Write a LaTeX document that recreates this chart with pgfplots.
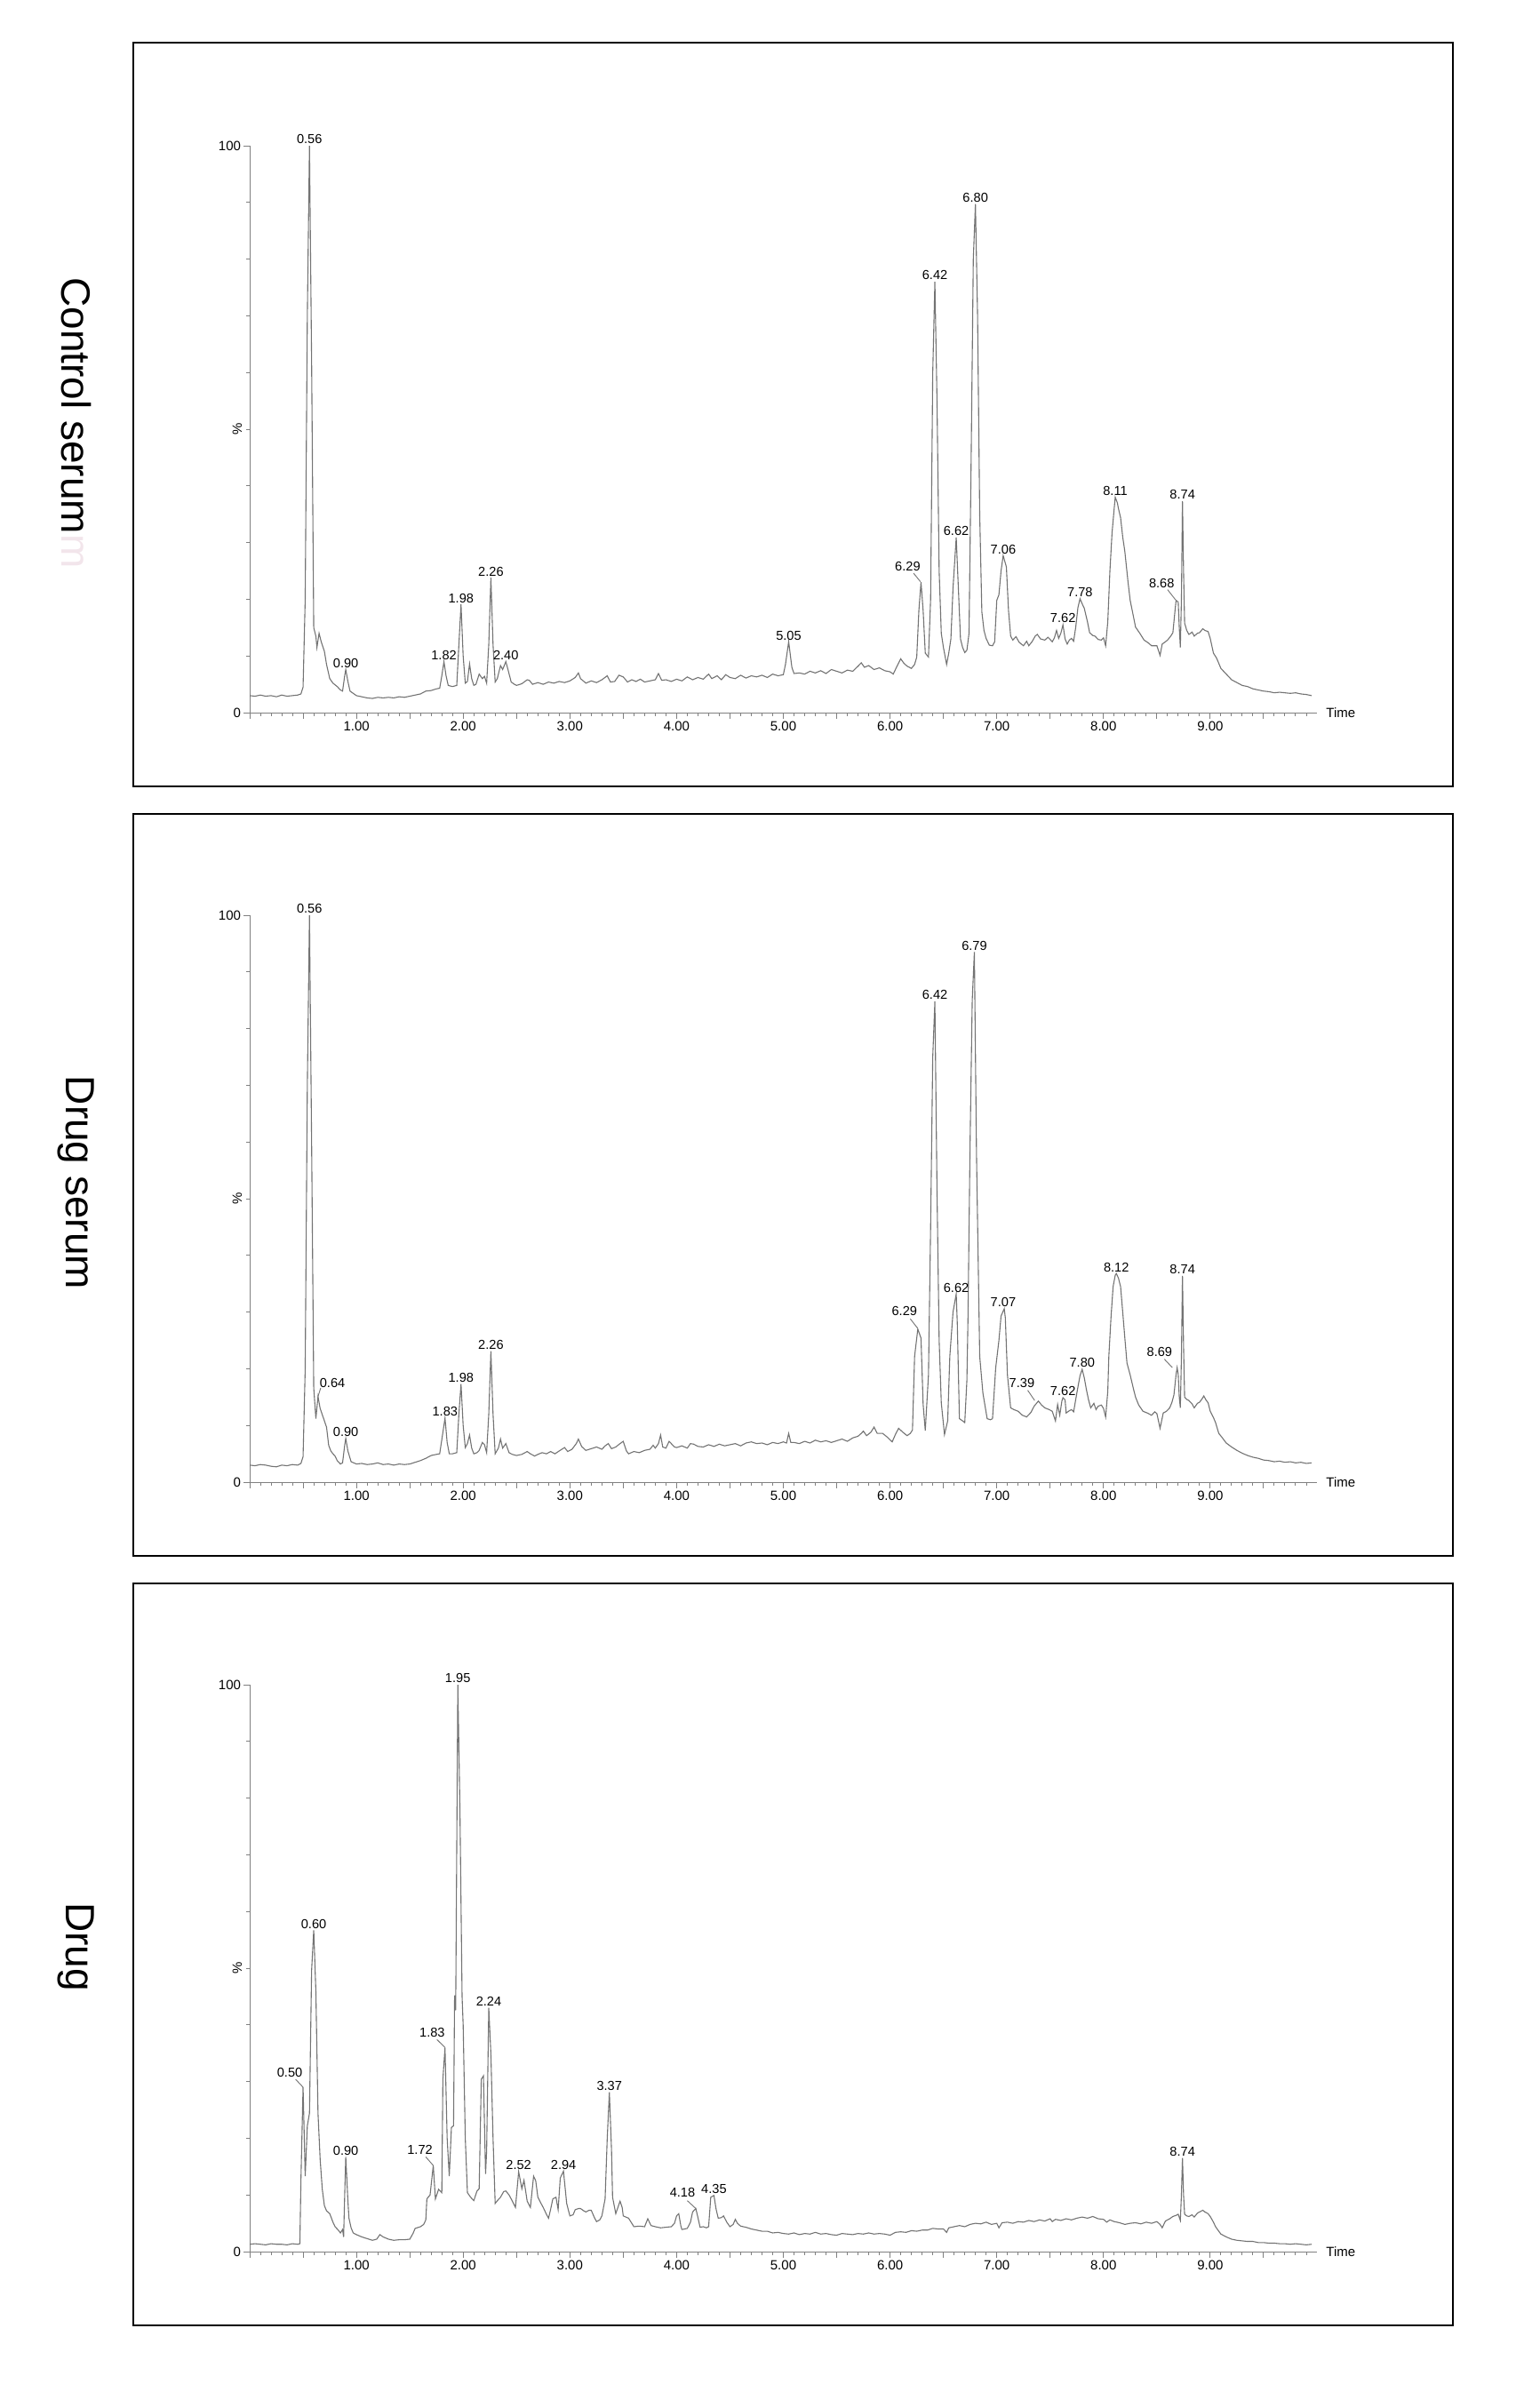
\documentclass[border=0pt]{standalone}
\usepackage{pgfplots}
\usepackage{pgfplotstable}
\pgfplotsset{compat=1.18}
\usepackage{fontspec}
\setmainfont{Liberation Sans}

\pgfplotstableread{
x y
0.00 3.0
0.05 2.9
0.10 3.1
0.15 2.9
0.20 3.0
0.25 2.8
0.30 3.1
0.35 2.9
0.40 3.0
0.45 3.1
0.48 3.3
0.50 4.5
0.52 20
0.54 70
0.56 100
0.58 62
0.60 15
0.62 13.5
0.63 11.5
0.65 14.0
0.67 12.5
0.70 10.8
0.72 8.5
0.75 6.0
0.78 5.2
0.82 4.6
0.85 4.0
0.87 3.8
0.89 6.5
0.90 7.6
0.92 5.5
0.94 3.8
0.97 3.4
1.00 3.0
1.05 2.8
1.10 2.6
1.15 2.5
1.20 2.7
1.25 2.6
1.30 2.7
1.35 2.6
1.40 2.8
1.45 2.7
1.50 2.9
1.55 3.1
1.60 3.3
1.65 3.8
1.70 3.9
1.75 4.2
1.78 4.3
1.80 6.5
1.82 9.0
1.84 6.5
1.86 4.8
1.90 4.6
1.94 4.8
1.96 12
1.98 19.1
2.00 10
2.02 5.2
2.04 5.5
2.06 8.6
2.08 6.0
2.10 4.8
2.12 5.0
2.15 6.8
2.18 6.0
2.20 6.4
2.22 5.2
2.24 12
2.26 23.8
2.28 12
2.30 5.4
2.32 6.0
2.35 8.3
2.37 7.6
2.40 9.0
2.42 7.6
2.45 5.4
2.48 5.0
2.50 4.8
2.55 5.1
2.60 5.8
2.62 5.7
2.65 5.0
2.70 5.3
2.75 5.0
2.80 5.4
2.85 5.2
2.90 5.5
2.95 5.3
3.00 5.6
3.05 6.2
3.08 7.0
3.10 6.0
3.15 5.2
3.20 5.6
3.25 5.3
3.30 5.8
3.35 6.5
3.38 5.4
3.42 5.5
3.46 6.6
3.50 6.3
3.54 5.4
3.58 5.8
3.62 5.5
3.66 5.9
3.70 5.4
3.75 5.6
3.80 5.8
3.83 6.9
3.86 5.7
3.90 5.8
3.95 5.5
4.00 5.9
4.05 5.6
4.10 6.3
4.15 5.8
4.20 6.2
4.25 5.9
4.30 6.8
4.33 6.0
4.38 6.5
4.42 5.8
4.46 6.7
4.50 6.2
4.55 6.0
4.60 6.6
4.65 6.1
4.70 6.5
4.75 6.3
4.80 6.6
4.85 6.2
4.90 6.8
4.95 6.5
5.00 6.7
5.02 8.5
5.05 12.5
5.08 8.0
5.10 6.9
5.15 7.0
5.20 6.8
5.25 7.3
5.30 7.0
5.35 7.4
5.40 6.9
5.45 7.6
5.50 7.3
5.55 7.0
5.60 7.5
5.65 7.3
5.70 8.2
5.73 8.8
5.76 8.0
5.80 8.3
5.85 7.6
5.90 7.9
5.95 7.4
6.00 7.2
6.03 6.8
6.06 8.0
6.10 9.5
6.13 8.7
6.16 8.2
6.20 7.8
6.23 8.5
6.25 9.8
6.27 18
6.29 23
6.31 18
6.33 10.5
6.36 9.8
6.38 20
6.40 60
6.42 76
6.44 55
6.46 25
6.48 14
6.50 11.5
6.53 8.5
6.55 10.5
6.57 13
6.59 22
6.62 30.9
6.64 22
6.66 13
6.68 11.5
6.70 10.6
6.72 11.0
6.74 14
6.76 45
6.78 80
6.80 89.7
6.82 70
6.84 35
6.86 17.8
6.88 14.5
6.90 13.1
6.93 11.9
6.96 11.8
6.98 12.5
7.00 19.8
7.02 20.8
7.04 25
7.06 27.7
7.09 25.7
7.11 18
7.13 13.5
7.15 12.8
7.18 13.4
7.21 12.4
7.25 11.8
7.28 12.6
7.30 11.8
7.33 12.5
7.36 13.5
7.38 13.8
7.41 13.0
7.45 12.8
7.48 13.3
7.52 12.5
7.54 13.2
7.56 14.5
7.58 13.1
7.60 14.0
7.62 15.5
7.64 13.0
7.66 12.1
7.68 12.8
7.70 13.1
7.72 12.6
7.74 15.1
7.76 18.5
7.78 20.1
7.80 19.2
7.82 18.4
7.85 16
7.87 14.1
7.90 13.6
7.92 13.5
7.95 12.9
7.98 12.8
8.00 13.2
8.02 11.8
8.04 16
8.06 25
8.08 31.7
8.10 36
8.11 38
8.13 37
8.14 36
8.16 34.4
8.18 31
8.20 28.4
8.23 23
8.25 19.8
8.28 17
8.30 15.1
8.34 14
8.38 12.8
8.42 12.3
8.45 11.8
8.50 11.8
8.53 10.1
8.55 12.1
8.58 12.5
8.60 12.8
8.63 13.5
8.65 14.1
8.67 18
8.68 19.8
8.70 19.5
8.71 15
8.72 11.5
8.73 20
8.74 37.3
8.75 25
8.76 15.8
8.78 14.5
8.80 13.8
8.83 14.2
8.85 13.5
8.88 14.0
8.90 14.1
8.93 14.8
8.95 14.5
8.98 14.3
9.00 13.1
9.03 10.5
9.06 9.6
9.10 7.8
9.15 6.8
9.20 5.8
9.25 5.3
9.30 4.8
9.35 4.6
9.40 4.2
9.45 4.0
9.50 3.8
9.55 3.7
9.60 3.5
9.65 3.6
9.70 3.5
9.75 3.4
9.80 3.5
9.85 3.3
9.90 3.2
9.95 3.0
}\tabControl

\pgfplotstableread{
x y
0.00 3.0
0.05 2.9
0.10 3.1
0.15 3.0
0.20 2.8
0.25 2.7
0.30 3.0
0.35 2.9
0.40 3.1
0.45 3.0
0.48 3.3
0.50 4.5
0.52 20
0.54 70
0.56 100
0.58 60
0.60 16.6
0.62 11.2
0.64 15.1
0.66 13
0.68 11.9
0.70 10.8
0.72 9.7
0.74 6.5
0.76 5.5
0.78 5.0
0.80 4.6
0.82 3.8
0.85 3.2
0.87 3.4
0.89 6.5
0.90 7.7
0.92 5.5
0.95 3.6
1.00 3.2
1.05 3.3
1.10 3.1
1.15 3.2
1.20 3.4
1.25 3.1
1.30 3.2
1.35 3.0
1.40 3.2
1.45 3.1
1.50 3.2
1.55 3.5
1.60 3.8
1.65 4.2
1.70 4.7
1.75 4.9
1.78 5.0
1.80 7.5
1.83 11.3
1.85 7
1.87 5.0
1.90 5.0
1.94 5.2
1.96 12
1.98 17.3
2.00 10
2.02 6.1
2.04 6.8
2.06 8.3
2.08 6.0
2.10 5.0
2.13 5.2
2.15 5.6
2.18 7.0
2.20 6.6
2.22 5.2
2.24 12
2.26 23.1
2.28 12
2.30 5.0
2.33 6.0
2.35 7.6
2.37 6.0
2.40 6.8
2.43 5.2
2.46 4.9
2.50 4.7
2.55 4.9
2.60 5.4
2.63 5.0
2.67 4.6
2.70 4.9
2.74 5.2
2.78 5.0
2.82 5.4
2.86 5.0
2.90 5.5
2.95 6.1
2.98 5.4
3.02 5.8
3.06 6.8
3.08 7.6
3.11 6.3
3.15 5.6
3.20 5.9
3.25 6.2
3.30 5.8
3.33 6.4
3.36 6.8
3.39 5.9
3.43 6.2
3.47 6.8
3.50 7.2
3.53 5.5
3.55 5.0
3.60 5.4
3.65 5.2
3.70 5.6
3.75 5.8
3.78 6.5
3.80 6.0
3.83 6.8
3.85 8.3
3.87 6.2
3.90 6.0
3.93 7.2
3.95 6.8
3.98 6.2
4.00 6.1
4.05 6.4
4.10 6.0
4.13 6.8
4.16 6.7
4.20 6.3
4.25 6.2
4.30 6.6
4.35 6.3
4.40 6.7
4.45 6.4
4.50 6.6
4.55 6.8
4.60 6.4
4.65 6.9
4.70 7.1
4.75 6.8
4.80 6.9
4.85 6.6
4.90 7.0
4.95 6.8
5.00 7.1
5.03 6.9
5.05 8.6
5.07 7.0
5.10 7.0
5.15 6.8
5.20 7.2
5.25 6.9
5.30 7.4
5.35 7.1
5.40 7.3
5.45 7.0
5.50 7.3
5.55 7.6
5.60 7.2
5.65 7.8
5.70 8.1
5.73 8.6
5.75 9.0
5.78 8.2
5.82 8.8
5.85 9.7
5.88 8.6
5.93 8.6
5.97 8.0
6.02 7.1
6.05 8.4
6.08 9.5
6.12 8.8
6.16 8.2
6.19 8.6
6.21 9.2
6.23 22.2
6.26 27
6.29 25.4
6.31 13.7
6.33 9.1
6.36 18.9
6.38 45
6.40 75
6.42 84.8
6.44 51.4
6.46 25
6.48 14
6.51 8.4
6.54 10.8
6.56 22.2
6.59 30
6.62 33.2
6.63 28
6.65 11.2
6.68 10.8
6.70 10.5
6.72 18
6.73 28.7
6.75 60
6.77 85
6.79 93.5
6.81 57.8
6.84 22.2
6.87 15.7
6.91 11.2
6.94 11.0
6.96 11.2
6.99 20.2
7.02 25
7.04 29.3
7.07 30.6
7.08 29
7.10 18.9
7.13 13.1
7.16 12.8
7.20 12.5
7.24 11.8
7.28 11.5
7.32 12.3
7.35 13.4
7.39 14.3
7.42 13.6
7.45 13.1
7.49 12.8
7.52 12.5
7.55 10.8
7.57 13.7
7.59 11.8
7.61 14.3
7.62 14.9
7.64 14.5
7.65 12.2
7.68 12.6
7.70 12.8
7.72 12.4
7.75 15.7
7.78 18.8
7.80 19.9
7.82 18.4
7.84 16.3
7.86 14.5
7.88 13.1
7.91 13.9
7.93 12.8
7.95 13.4
7.98 13.6
8.00 13.0
8.02 11.5
8.04 16
8.05 22.2
8.07 29
8.09 34.5
8.11 36.5
8.12 36.8
8.14 36.0
8.16 34.5
8.18 30
8.20 25.4
8.22 21
8.25 18.9
8.28 16.5
8.30 15
8.33 13.6
8.37 12.5
8.41 12.2
8.45 11.8
8.48 12.4
8.50 12.1
8.53 9.5
8.56 12.2
8.59 12.5
8.62 13.1
8.64 14.0
8.66 15.4
8.68 19
8.69 20.2
8.70 19
8.71 15
8.72 13.1
8.73 22
8.74 36.4
8.75 24
8.76 15.0
8.78 14.6
8.80 14.4
8.83 13.8
8.85 13.1
8.88 13.9
8.90 14.1
8.92 14.6
8.94 15.2
8.96 14.5
8.98 14.0
9.00 12.5
9.03 11.4
9.05 10.5
9.08 8.6
9.11 7.9
9.15 6.9
9.20 6.2
9.25 5.6
9.30 5.1
9.35 4.7
9.40 4.4
9.45 4.2
9.50 3.9
9.55 3.8
9.60 3.6
9.65 3.7
9.70 3.5
9.75 3.6
9.80 3.4
9.85 3.5
9.90 3.3
9.95 3.4
}\tabDrugSerum

\pgfplotstableread{
x y
0.00 1.3
0.05 1.4
0.10 1.3
0.15 1.2
0.20 1.4
0.25 1.3
0.30 1.3
0.35 1.2
0.40 1.4
0.45 1.3
0.47 1.4
0.48 12.6
0.50 29
0.52 13.3
0.54 22.2
0.56 24.4
0.58 49.6
0.60 56.7
0.62 45.9
0.64 24.4
0.66 16.3
0.68 11
0.70 8.1
0.72 7.2
0.75 6.7
0.78 5.2
0.80 4.4
0.83 3.8
0.85 3.3
0.87 3.9
0.88 2.6
0.89 10
0.90 16.7
0.92 9
0.93 5.9
0.95 4.2
0.97 3.3
1.00 3.0
1.05 2.6
1.10 2.3
1.15 2.0
1.19 2.2
1.22 3.0
1.25 2.6
1.30 2.2
1.35 2.0
1.40 2.1
1.45 2.1
1.50 2.2
1.53 3.2
1.55 4.1
1.60 4.4
1.63 4.8
1.65 5.6
1.66 9.3
1.69 10.0
1.72 15.2
1.74 9.3
1.77 11.0
1.80 10.4
1.81 30.4
1.83 36
1.85 20
1.87 13.3
1.89 21.9
1.91 22.2
1.92 45.2
1.93 42.6
1.95 100
1.97 77.8
1.99 45
2.00 40
2.02 20
2.04 10.4
2.07 9.6
2.10 9.0
2.13 10.7
2.15 11.1
2.17 30.4
2.19 31
2.21 13.7
2.22 17.8
2.24 43
2.26 34.8
2.28 20
2.30 8.5
2.33 9.2
2.35 9.6
2.38 10.6
2.40 10.7
2.43 10.0
2.45 9.3
2.49 7.8
2.52 14.1
2.55 11.1
2.57 12.6
2.60 8.9
2.63 7.8
2.66 13.3
2.68 12.5
2.70 9.6
2.73 8.5
2.75 7.8
2.78 6.6
2.80 5.9
2.82 7.5
2.84 9.3
2.87 9.6
2.89 7.4
2.91 13.0
2.94 14.2
2.97 8.5
3.00 6.3
3.03 6.5
3.05 7.4
3.08 7.6
3.10 7.6
3.13 7.2
3.15 7.0
3.18 7.3
3.20 7.3
3.23 6.0
3.25 5.3
3.28 5.6
3.30 6.3
3.33 9.3
3.35 20
3.37 28.1
3.39 18
3.40 9.6
3.43 6.7
3.45 7.8
3.47 8.9
3.49 7.8
3.50 6.3
3.55 5.9
3.58 5.0
3.60 4.4
3.65 4.5
3.70 4.4
3.73 5.8
3.76 4.6
3.80 4.4
3.85 4.2
3.90 4.3
3.95 4.4
3.98 5.0
4.00 6.3
4.02 6.7
4.04 4.5
4.05 3.9
4.10 4.1
4.13 5.2
4.15 7.0
4.18 7.6
4.20 6.0
4.22 4.3
4.25 4.4
4.28 4.2
4.30 4.4
4.32 9.6
4.35 9.9
4.37 7.5
4.39 5.9
4.42 6.0
4.44 6.3
4.47 5.2
4.50 4.4
4.53 4.8
4.55 5.7
4.57 5.0
4.60 4.5
4.65 4.3
4.70 4.0
4.75 3.8
4.80 3.6
4.85 3.6
4.90 3.3
4.95 3.4
5.00 3.2
5.05 3.1
5.10 3.3
5.15 3.0
5.20 3.2
5.25 3.1
5.30 3.4
5.35 3.1
5.40 3.2
5.45 3.0
5.50 2.9
5.55 3.2
5.60 3.1
5.65 3.0
5.70 3.2
5.75 3.1
5.80 3.3
5.85 3.1
5.90 3.2
5.95 3.1
6.00 2.9
6.05 3.4
6.10 3.5
6.15 3.4
6.20 3.7
6.25 3.6
6.30 3.8
6.35 3.8
6.40 4.1
6.45 4.0
6.50 4.0
6.53 3.4
6.55 4.2
6.60 4.4
6.65 4.6
6.70 4.4
6.75 4.8
6.80 5.0
6.85 4.9
6.90 5.2
6.95 4.8
7.00 5.0
7.02 4.2
7.05 5.1
7.10 5.2
7.15 5.0
7.20 5.3
7.25 5.2
7.30 5.5
7.35 5.3
7.40 5.6
7.45 5.4
7.50 5.8
7.52 5.3
7.55 5.7
7.60 5.5
7.65 5.8
7.70 5.6
7.75 5.9
7.80 6.1
7.85 5.9
7.90 6.2
7.95 5.8
8.00 5.7
8.03 5.2
8.06 5.6
8.10 5.3
8.15 5.1
8.20 4.8
8.25 5.0
8.30 5.1
8.35 4.9
8.40 5.2
8.45 5.0
8.50 5.3
8.53 4.8
8.55 4.2
8.58 5.4
8.62 5.8
8.65 6.2
8.68 6.4
8.70 6.6
8.72 5.5
8.73 10
8.74 16.5
8.75 10
8.76 6.6
8.78 6.3
8.80 6.2
8.83 6.5
8.85 6.1
8.88 6.8
8.90 7.0
8.93 7.3
8.95 7.0
8.98 6.7
9.00 6.2
9.03 5.2
9.05 4.4
9.08 3.6
9.10 3.1
9.15 2.6
9.20 2.2
9.25 2.0
9.30 1.9
9.35 1.8
9.40 1.8
9.45 1.6
9.50 1.6
9.55 1.5
9.60 1.5
9.65 1.4
9.70 1.4
9.75 1.3
9.80 1.4
9.85 1.3
9.90 1.2
9.95 1.3
}\tabDrug

\newcommand{\pkfont}{\fontsize{7.3}{8.5}\selectfont}
\newcommand{\pk}[3]{\node[anchor=south, inner sep=0.8pt, font=\pkfont] at (axis cs:#1,#2) {#3};}
% leader label: text anchor (x,y), line from (x1,y1) to (x2,y2), text
\newcommand{\pkl}[7]{\node[anchor=south east, inner sep=0.8pt, font=\pkfont] at (axis cs:#1,#2) {#7};
  \draw[black!55, line width=0.45pt] (axis cs:#3,#4) -- (axis cs:#5,#6);}

\pgfplotsset{
  chrom/.style={
    scale only axis, width=600.5pt, height=319pt,
    xmin=0, xmax=10, ymin=0, ymax=100,
    axis x line=bottom, axis y line=left,
    axis line style={draw=black!50, line width=0.5pt, -},
    every tick/.style={draw=black!50, line width=0.5pt},
    tick align=outside,
    major tick length=3.3pt, minor tick length=1.8pt,
    xtick={0,0.5,...,9.5},
    xticklabels={,,1.00,,2.00,,3.00,,4.00,,5.00,,6.00,,7.00,,8.00,,9.00,},
    minor xtick={0.1,0.2,...,9.9},
    ytick={0,100}, yticklabels={0,100},
    minor ytick={10,20,...,90},
    tick label style={font=\fontsize{7.5}{9}\selectfont, text=black},
    /pgf/number format/assume math mode=true,
    xticklabel style={inner sep=1.5pt},
    yticklabel style={inner sep=1.5pt},
    clip=false,
    anchor=south west,
  },
  trace/.style={black!55, line width=0.55pt, mark=none},
}

\newcommand{\decor}{%
  \node[anchor=west, inner sep=1pt, font=\fontsize{7.5}{9}\selectfont] at ([xshift=4pt]axis cs:10,0) {Time};
  \node[rotate=90, inner sep=0pt, font=\fontsize{7.5}{9}\selectfont] at ([xshift=-7pt]axis cs:0,50) {\%};
}

\begin{document}
\begin{tikzpicture}
\useasboundingbox (0,0) rectangle (853pt,-1355pt);
\draw[line width=1.1pt] (75pt,-24pt) rectangle (817.5pt,-442.5pt);
\draw[line width=1.1pt] (75pt,-458pt) rectangle (817.5pt,-875.5pt);
\draw[line width=1.1pt] (75pt,-891pt) rectangle (817.5pt,-1308.5pt);

\node[rotate=-90, font=\fontsize{23}{27}\selectfont, inner sep=0pt] at (43pt,-238pt) {Control serum\textcolor[rgb]{0.95,0.90,0.92}{m}};
\node[rotate=-90, font=\fontsize{23}{27}\selectfont, inner sep=0pt] at (43pt,-665.5pt) {Drug serum};
\node[rotate=-90, font=\fontsize{23}{27}\selectfont, inner sep=0pt] at (43pt,-1095.5pt) {Drug};

% Panel 1: Control serum
\begin{axis}[chrom, at={(140.5pt,-401pt)}]
\addplot[trace] table {\tabControl};
\decor
\pk{0.56}{100}{0.56}
\pk{0.90}{7.6}{0.90}
\pk{1.82}{9.0}{1.82}
\pk{1.98}{19.1}{1.98}
\pk{2.26}{23.8}{2.26}
\pk{2.40}{9.0}{2.40}
\pk{5.05}{12.5}{5.05}
\pk{6.42}{76}{6.42}
\pk{6.62}{30.9}{6.62}
\pk{6.80}{89.7}{6.80}
\pk{7.06}{27.7}{7.06}
\pk{7.62}{15.5}{7.62}
\pk{7.78}{20.1}{7.78}
\pk{8.11}{38}{8.11}
\pk{8.74}{37.3}{8.74}
\pkl{6.30}{24.6}{6.22}{24.6}{6.285}{23.1}{6.29}
\pkl{8.68}{21.7}{8.60}{21.7}{8.675}{19.9}{8.68}
\end{axis}

% Panel 2: Drug serum
\begin{axis}[chrom, at={(140.5pt,-834pt)}]
\addplot[trace] table {\tabDrugSerum};
\decor
\pk{0.56}{100}{0.56}
\pk{0.90}{7.7}{0.90}
\pk{1.83}{11.3}{1.83}
\pk{1.98}{17.3}{1.98}
\pk{2.26}{23.1}{2.26}
\pk{6.42}{84.8}{6.42}
\pk{6.62}{33.2}{6.62}
\pk{6.79}{93.5}{6.79}
\pk{7.06}{30.6}{7.07}
\pk{7.62}{14.9}{7.62}
\pk{7.80}{19.9}{7.80}
\pk{8.12}{36.8}{8.12}
\pk{8.74}{36.4}{8.74}
\node[anchor=south west, inner sep=0.8pt, font=\pkfont] at (axis cs:0.64,16.4) {0.64};
\draw[black!55, line width=0.45pt] (axis cs:0.64,15.1) -- (axis cs:0.665,16.6);
\pkl{6.27}{29.0}{6.19}{28.8}{6.26}{27.1}{6.29}
\pkl{7.37}{16.3}{7.29}{16.2}{7.355}{14.4}{7.39}
\pkl{8.66}{21.8}{8.57}{21.7}{8.645}{20.2}{8.69}
\end{axis}

% Panel 3: Drug
\begin{axis}[chrom, at={(140.5pt,-1267pt)}]
\addplot[trace] table {\tabDrug};
\decor
\pk{0.60}{56.7}{0.60}
\pk{0.90}{16.7}{0.90}
\pk{1.95}{100}{1.95}
\pk{2.24}{43}{2.24}
\pk{2.52}{14.1}{2.52}
\pk{2.94}{14.2}{2.94}
\pk{3.37}{28.1}{3.37}
\pk{4.35}{9.9}{4.35}
\pk{8.74}{16.5}{8.74}
\pkl{0.51}{30.5}{0.43}{30.4}{0.50}{29.0}{0.50}
\pkl{1.73}{16.8}{1.65}{16.7}{1.72}{15.2}{1.72}
\pkl{1.845}{37.6}{1.755}{37.4}{1.83}{36.0}{1.83}
\pkl{4.19}{9.3}{4.10}{9.0}{4.18}{7.6}{4.18}
\end{axis}
\end{tikzpicture}
\end{document}
